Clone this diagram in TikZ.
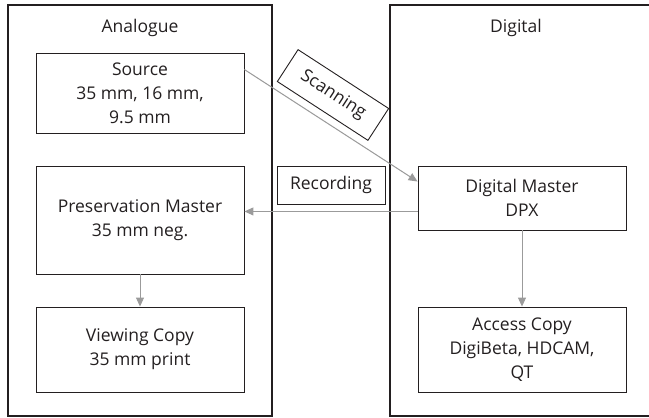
\documentclass[tikz,border=0pt]{standalone}
\usepackage{fontspec}
\setmainfont{Open Sans}
\usetikzlibrary{arrows.meta}
\definecolor{ink}{HTML}{231F20}
\definecolor{link}{HTML}{9B9B9B}
\begin{document}
\begin{tikzpicture}[x=1pt,y=-1pt,
  every node/.style={font=\fontsize{17.5}{24}\selectfont, text=ink},
  panel/.style={draw=ink, line width=1.1pt},
  card/.style={draw=ink, line width=0.9pt, minimum width=208pt, align=center, inner sep=0pt},
  tag/.style={draw=ink, line width=0.9pt, minimum width=108pt, minimum height=38pt, inner sep=0pt},
  flow/.style={draw=link, line width=1pt, -{Triangle[length=9pt,width=8pt]}, fill=link}]
\useasboundingbox (0,0) rectangle (649,418);

% the two columns
\draw[panel] (8,5) rectangle (272,416);
\draw[panel] (390,5) rectangle (680,416);
\node (analogue) at (140,28) {Analogue};
\node (digital) at (516,28) {Digital};

% analogue side
\node[card, minimum height=80pt] (src) at (140,93) {Source\\35 mm, 16 mm,\\9.5 mm};
\node[card, minimum height=108pt] (pm) at (140,220) {Preservation Master\\35 mm neg.};
\node[card, minimum height=85pt] (vc) at (140,349.5) {Viewing Copy\\35 mm print};

% digital side
\node[card, minimum height=64pt] (dm) at (522,198) {Digital Master\\DPX};
\node[card, minimum height=85pt] (ac) at (522,349.5) {Access Copy\\DigiBeta, HDCAM,\\QT};

% process labels
\node[tag, rotate=-33] (scan) at (333,95) {Scanning};
\node[tag] (rec) at (331,185) {Recording};

% transfers
\draw[flow] ([yshift=-17pt]src.north east) -- ([yshift=-16pt]dm.north west);
\coordinate (recfrom) at ([yshift=19pt]dm.south west);
\draw[flow] (recfrom) -- (pm.east |- recfrom);
\draw[flow] (pm.south) -- (vc.north);
\draw[flow] (dm.south) -- (ac.north);
\end{tikzpicture}
\end{document}
